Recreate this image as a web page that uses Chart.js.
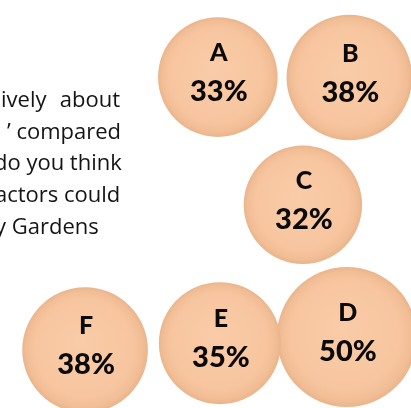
<!DOCTYPE html>
<html>
<head>
<meta charset="utf-8">
<script src="https://cdn.jsdelivr.net/npm/chart.js@4"></script>
<style>
  html, body { margin: 0; padding: 0; background: #fff; overflow: hidden; }
  #wrap { position: relative; width: 411px; height: 408px; }
  #bubbles { position: absolute; left: 0; top: 0; }
  .line {
    position: absolute;
    font: 22px "Open Sans", sans-serif;
    color: #141414;
    white-space: nowrap;
    line-height: 22px;
  }
  .just { text-align: justify; text-align-last: justify; }
</style>
</head>
<body>
<div id="wrap">
  <canvas id="bubbles" width="411" height="408"></canvas>
  <div class="line just" style="left:1px; top:87px; width:119px;">ively about</div>
  <div class="line just" style="left:7px; top:119px; width:113px;">’ compared</div>
  <div class="line just" style="left:-6px; top:150px; width:126px;">do you think</div>
  <div class="line just" style="left:-5px; top:182px; width:125px;">actors could</div>
  <div class="line" style="left:-5px; top:214px;">y Gardens</div>
</div>
<script>
const letters = ["A", "B", "C", "D", "E", "F"];
const shares = [33, 38, 32, 50, 35, 38];
const posX = [53.0, 85.0, 73.7, 84.4, 53.5, 20.7];
const posY = [81.1, 81.0, 49.8, 17.4, 15.9, 14.2];

// bubble size grows with the share
function radiusFor(v) {
  return 40 + 0.6 * v;
}

// paint each bubble like a soft sphere once the positions are known
const sphereShade = {
  id: "sphereShade",
  beforeDatasetsDraw(chart) {
    const ctx = chart.ctx;
    chart.getDatasetMeta(0).data.forEach((pt) => {
      const r = pt.options.radius;
      const g = ctx.createRadialGradient(pt.x - r * 0.1, pt.y - r * 0.15, r * 0.05, pt.x, pt.y, r);
      g.addColorStop(0, "#f9cba6");
      g.addColorStop(0.75, "#f7c6a0");
      g.addColorStop(0.93, "#f1bd95");
      g.addColorStop(1, "#eab48c");
      pt.options = Object.assign({}, pt.options, { backgroundColor: g });
    });
  },
};

const bubbleLabels = {
  id: "bubbleLabels",
  afterDatasetsDraw(chart) {
    const ctx = chart.ctx;
    const meta = chart.getDatasetMeta(0);
    ctx.save();
    ctx.fillStyle = "#0a0a0a";
    ctx.textAlign = "center";
    ctx.textBaseline = "middle";
    meta.data.forEach((pt, i) => {
      ctx.font = "900 25px Lato, sans-serif";
      ctx.fillText(letters[i], pt.x + 1, pt.y - 24);
      ctx.font = "900 29px Lato, sans-serif";
      ctx.fillText(shares[i] + "%", pt.x + 1, pt.y + 15);
    });
    ctx.restore();
  },
};

new Chart(document.getElementById("bubbles"), {
  type: "bubble",
  data: {
    labels: letters,
    datasets: [
      {
        data: letters.map((l, i) => ({ x: posX[i], y: posY[i], r: radiusFor(shares[i]) })),
        backgroundColor: "#f6c6a0",
        borderWidth: 0,
        hoverRadius: 0,
      },
    ],
  },
  options: {
    responsive: false,
    animation: false,
    events: [],
    layout: { padding: 0, autoPadding: false },
    plugins: { legend: { display: false }, tooltip: { enabled: false } },
    scales: {
      x: { display: false, min: 0, max: 100 },
      y: { display: false, min: 0, max: 100 },
    },
  },
  plugins: [sphereShade, bubbleLabels],
});
</script>
</body>
</html>
